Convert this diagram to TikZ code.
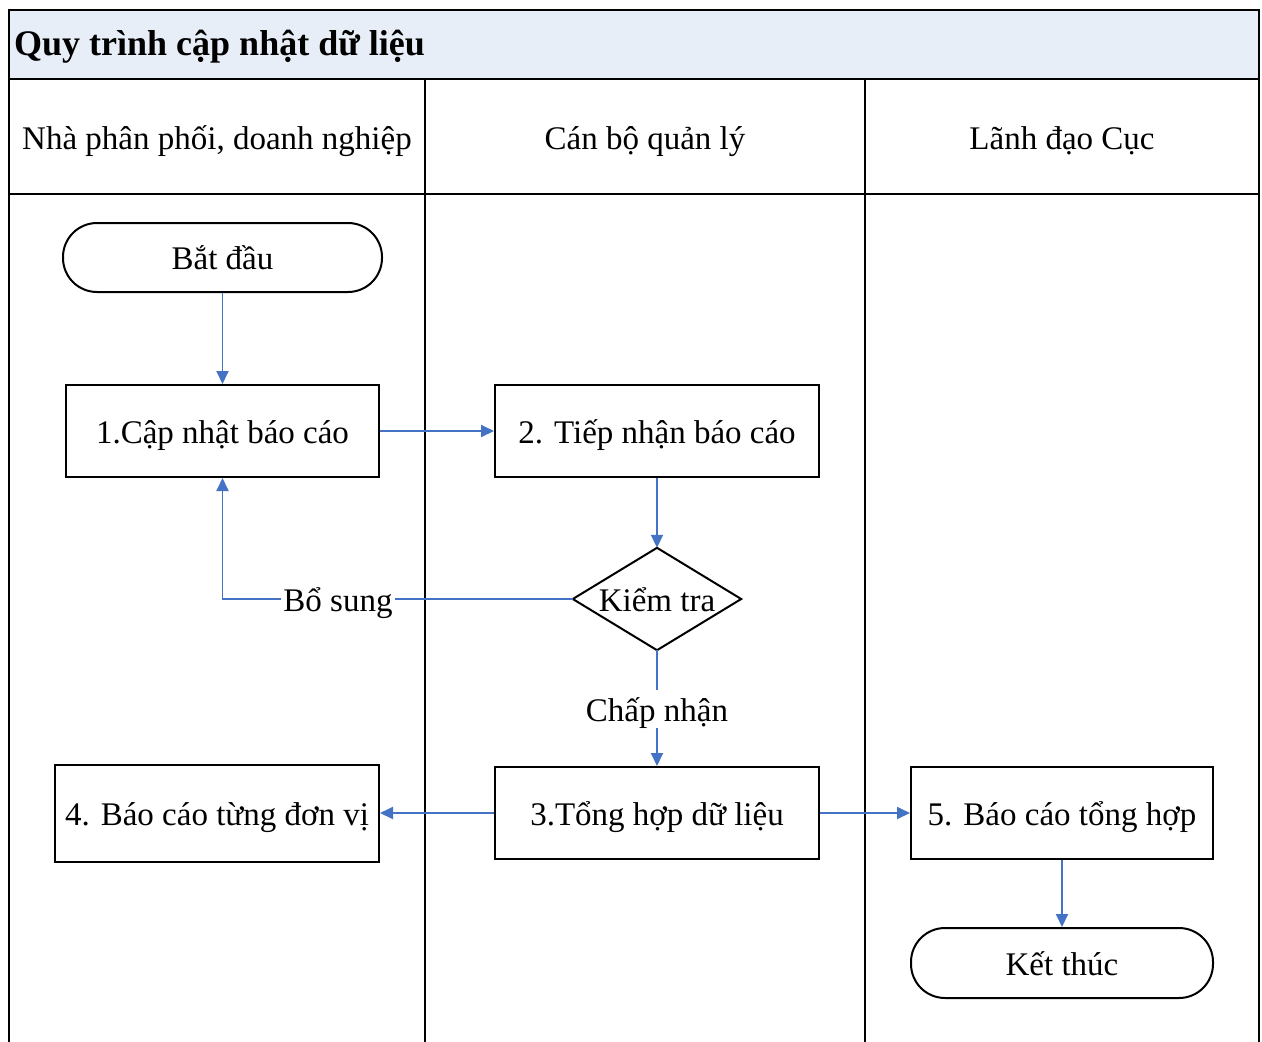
\documentclass[tikz,border=0pt]{standalone}
\usepackage{fontspec}
\setmainfont{Liberation Serif}
\usetikzlibrary{arrows.meta}
\definecolor{titlefill}{RGB}{232,238,247}
\definecolor{flowblue}{RGB}{68,114,196}
\begin{document}
\begin{tikzpicture}[x=1pt,y=-1pt,
  frameline/.style={line width=2.2pt,black},
  txt/.style={font=\fontsize{33}{40}\selectfont, inner sep=0pt, text height=31pt, text depth=7pt},
  boxnode/.style={draw=black,line width=2pt,txt,align=center},
  termnode/.style={boxnode,rounded corners=34pt},
  flow/.style={draw=flowblue,line width=1.9pt,-{Triangle[length=13pt,width=12pt]}},
  lbl/.style={txt,fill=white,inner xsep=2pt}]
\useasboundingbox (0,0) rectangle (1262,1042);
% frame
\fill[titlefill] (9,10) rectangle (1259,79);
\draw[frameline] (9,1042) -- (9,10) -- (1259,10) -- (1259,1042);
\draw[frameline] (9,79) -- (1259,79);
\draw[frameline] (9,194) -- (1259,194);
\draw[frameline] (425,79) -- (425,1042);
\draw[frameline] (865,79) -- (865,1042);
\node[anchor=west,inner sep=0pt,font=\fontsize{36}{42}\selectfont\bfseries] (title) at (14,47) {Quy trình cập nhật dữ liệu};
\node[txt] (h1) at (217,137) {Nhà phân phối, doanh nghiệp};
\node[txt] (h2) at (645,137) {Cán bộ quản lý};
\node[txt] (h3) at (1062,137) {Lãnh đạo Cục};
% nodes
\node[termnode,minimum width=319pt,minimum height=69pt] (start) at (222.5,257.5) {Bắt đầu};
\node[boxnode,minimum width=313pt,minimum height=92pt] (n1) at (222.5,431) {1.Cập nhật báo cáo};
\node[boxnode,minimum width=324pt,minimum height=92pt] (n2) at (657,431) {2. Tiếp nhận báo cáo};
\node[txt,minimum width=168pt,minimum height=102pt] (chk) at (657,599) {Kiểm tra};
\draw[line width=2pt] (chk.north) -- (chk.east) -- (chk.south) -- (chk.west) -- cycle;
\node[boxnode,minimum width=324pt,minimum height=92pt] (n3) at (657,813) {3.Tổng hợp dữ liệu};
\node[boxnode,minimum width=324pt,minimum height=97pt] (n4) at (217,813) {4. Báo cáo từng đơn vị};
\node[boxnode,minimum width=302pt,minimum height=92pt] (n5) at (1062,813) {5. Báo cáo tổng hợp};
\node[termnode,minimum width=302pt,minimum height=70pt] (end) at (1062,963) {Kết thúc};
% connectors
\draw[flow] (start) -- (n1);
\draw[flow] (n1) -- (n2);
\draw[flow] (n2) -- (chk.north);
\coordinate (corner) at (n1.south |- chk.west);
\draw[flow] (chk.west) -- (corner) -- (n1.south);
\node[lbl] (bs) at (338,599) {Bổ sung};
\draw[flow] (chk.south) -- (n3.north);
\node[lbl] (cn) at (657,709) {Chấp nhận};
\draw[flow] (n3) -- (n4);
\draw[flow] (n3) -- (n5);
\draw[flow] (n5) -- (end);
\end{tikzpicture}
\end{document}
